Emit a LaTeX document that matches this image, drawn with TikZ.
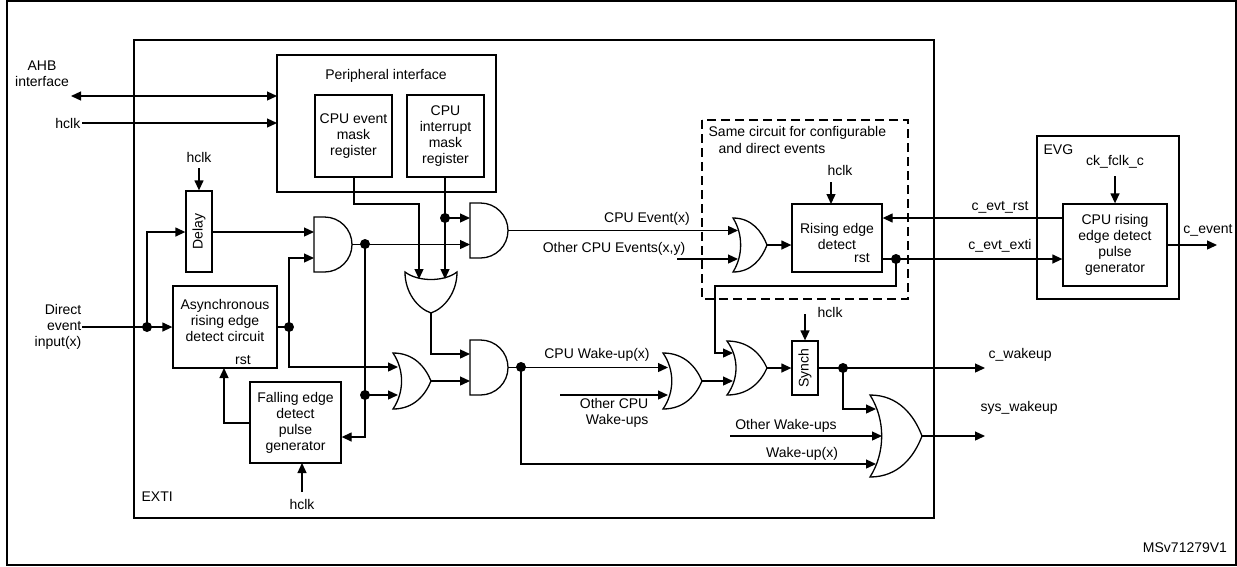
\documentclass[tikz,border=0pt]{standalone}
\usepackage{fontspec}
\setmainfont{Liberation Sans}
\usetikzlibrary{arrows.meta}
\newcommand\ANDG[4]{%
\draw[gate] (#1,#2) -- ({#3-(#4-#2)/2},#2) .. controls ({#3-(#4-#2)/2+0.552*(#4-#2)/2},#2) and (#3,{(#2+#4)/2-0.552*(#4-#2)/2}) .. (#3,{(#2+#4)/2}) .. controls (#3,{(#2+#4)/2+0.552*(#4-#2)/2}) and ({#3-(#4-#2)/2+0.552*(#4-#2)/2},#4) .. ({#3-(#4-#2)/2},#4) -- (#1,#4) -- cycle;}
\newcommand\ORG[4]{%
\draw[gate] (#1,#2) .. controls ({#1+0.55*(#3-#1)},#2) and ({#3-0.15*(#3-#1)},{(#2+#4)/2-0.25*(#4-#2)}) .. (#3,{(#2+#4)/2}) .. controls ({#3-0.15*(#3-#1)},{(#2+#4)/2+0.25*(#4-#2)}) and ({#1+0.55*(#3-#1)},#4) .. (#1,#4) .. controls ({#1+0.3*(#3-#1)},{(#2+#4)/2+0.2*(#4-#2)}) and ({#1+0.3*(#3-#1)},{(#2+#4)/2-0.2*(#4-#2)}) .. (#1,#2) -- cycle;}
\begin{document}
\begin{tikzpicture}[x=1pt,y=-1pt,line width=1.3pt,
  font=\fontsize{14}{16}\selectfont,
  gate/.style={line width=1.3pt},
  ar/.style={-{Triangle[length=10pt,width=9pt]}},
  box/.style={draw,line width=1.3pt,inner sep=0pt,align=center},
  lbl/.style={inner sep=0pt,align=center},
  dot/.style={fill,circle,inner sep=0pt,minimum size=10pt}]
\useasboundingbox (0,0) rectangle (1237,566);
\draw (7,1) rectangle (1236,565);
% boxes
\node[box,minimum width=800,minimum height=478] (exti) at (534,279) {};
\node[lbl,anchor=west] (extil) at (141,497) {EXTI};
\node[box,minimum width=219,minimum height=137] (periph) at (386.5,123.5) {};
\node[lbl] (periphl) at (386,76) {Peripheral interface};
\node[box,minimum width=77,minimum height=82] (evm) at (353.5,136) {CPU event\\mask\\register};
\node[box,minimum width=77,minimum height=82] (itm) at (445.5,136) {CPU\\interrupt\\mask\\register};
\node[box,minimum width=26,minimum height=81] (delay) at (199,231.5) {};
\node[lbl,rotate=90] (delayl) at (199,231.5) {Delay};
\node[box,minimum width=104,minimum height=82] (async) at (225,327) {};
\node[lbl] (asyncl) at (225,320) {Asynchronous\\rising edge\\detect circuit};
\node[lbl] (asyncr) at (243,360) {rst};
\node[box,minimum width=91,minimum height=81] (fall) at (295.5,422.5) {Falling edge\\detect\\pulse\\generator};
\draw[dash pattern=on 9pt off 5pt,line width=1.3pt] (702,120) rectangle (908,299);
\node[lbl,anchor=west] (same1) at (708,133) {Same circuit for configurable};
\node[lbl,anchor=west] (same2) at (718,148) {and direct events};
\node[box,minimum width=90,minimum height=68] (rise) at (837,238) {};
\node[lbl] (risel) at (837,236) {Rising edge\\detect};
\node[lbl] (riser) at (862,258) {rst};
\node[box,minimum width=26,minimum height=54] (synch) at (805,368) {};
\node[lbl,rotate=90] (synchl) at (805,368) {Synch};
\node[box,minimum width=142,minimum height=163] (evg) at (1108,217.5) {};
\node[lbl,anchor=west] (evgl) at (1043,150) {EVG};
\node[box,minimum width=104,minimum height=82] (crise) at (1115,245) {CPU rising\\edge detect\\pulse\\generator};
% gates
\ANDG{314}{217}{352}{272}
\ANDG{470}{203}{508}{258}
\ANDG{470}{340}{508}{395}
\ORG{393}{353}{431}{409}
\ORG{733}{218}{767}{272}
\ORG{663}{353}{702}{409}
\ORG{727}{341}{767}{395}
\ORG{870}{395}{922}{477}
\draw[gate] (405,272) .. controls (418,282) and (444,282) .. (457,272) .. controls (457,292) and (445,308) .. (431,313) .. controls (417,308) and (405,292) .. (405,272) -- cycle;
% coordinates
\coordinate (dA) at (147,327);
\coordinate (dB) at (289,327);
\coordinate (dC) at (365,244);
\coordinate (dD) at (365,395);
\coordinate (dE) at (445,218);
\coordinate (dF) at (521,367);
\coordinate (dG) at (896,259);
\coordinate (dH) at (843,368);
% left side
\node[lbl] (ahb) at (42,74) {AHB\\interface};
\coordinate (ahbE) at (71,96);
\draw[{Triangle[length=10pt,width=9pt]}-{Triangle[length=10pt,width=9pt]}] (ahbE) -- (277,96);
\node[lbl,anchor=east,inner sep=1pt] (hclk1) at (82,123) {hclk};
\draw[ar] (hclk1.east) -- (277,123);
\node[lbl] (hclk2) at (199,157) {hclk};
\draw[ar] (199,168) -- (delay.north);
\node[lbl,align=right,anchor=east] (dir) at (82,327) {Direct\\event\\input(x)};
\draw[ar] (82,327) -- (async.west);
\draw[ar] (dA) -- (147,232) -- (delay.west |- 0,232);
\draw[ar] (212,232) -- (314,232);
\draw (async.east |- dB) -- (dB);
\draw[ar] (dB) -- (289,258) -- (314,258);
\draw[ar] (dB) -- (289,367) -- (398,367);
\draw[ar] (352,244.5) -- (470,244.5);
\draw[ar] (dC) -- (365,437) -- (fall.east |- 0,437);
\draw[ar] (dD) -- (398,395);
\draw[ar] (250,423) -- (224,423) -- (224,368);
\node[lbl] (hclk3) at (302,504) {hclk};
\draw[ar] (302,492) -- (302,463);
\draw[ar] (431,381) -- (470,381);
\draw[ar] (354,177) -- (354,204) -- (419,204) -- (419,279);
\draw[ar] (445,177) -- (445,279);
\draw[ar] (dE) -- (470,218);
\draw[ar] (431,313) -- (431,354) -- (470,354);
% events
\draw[ar] (508,230.5) -- (738,230.5);
\node[lbl] (cpuev) at (647,219) {CPU Event(x)};
\node[lbl] (othev) at (614,249) {Other CPU Events(x,y)};
\draw[ar] (677,259) -- (738,259);
\draw[ar] (767,245) -- (rise.west |- 0,245);
\node[lbl] (hclk4) at (840,170) {hclk};
\draw[ar] (831,182) -- (831,204);
\draw[ar] (crise.west |- 0,218) -- (rise.east |- 0,218);
\node[lbl] (cer) at (1000,207) {c\_evt\_rst};
\draw[ar] (rise.east |- dG) -- (crise.west |- dG);
\node[lbl] (cee) at (1000,246) {c\_evt\_exti};
\draw[ar] (dG) -- (896,286) -- (715,286) -- (715,353) -- (733,353);
\node[lbl] (ckf) at (1115,162) {ck\_fclk\_c};
\draw[ar] (1115,176) -- (crise.north);
\draw[ar] (crise.east) -- (1217,245);
\node[lbl] (cevl) at (1208,230) {c\_event};
% wakeups
\draw[ar] (508,367.5) -- (668,367.5);
\node[lbl] (cwu) at (597,355) {CPU Wake-up(x)};
\draw[ar] (560,395) -- (668,395);
\node[lbl,align=right,anchor=north east] (ocw) at (649,398) {Other CPU\\Wake-ups};
\draw[ar] (702,381) -- (733,381);
\draw[ar] (767,368) -- (synch.west);
\node[lbl,anchor=west] (hclk5) at (817,312) {hclk};
\draw[ar] (805,314) -- (synch.north);
\draw[ar] (synch.east) -- (985,368);
\node[lbl,anchor=west] (cwk) at (988,355) {c\_wakeup};
\draw[ar] (dH) -- (843,409) -- (876,409);
\draw[ar] (730,436) -- (882,436);
\node[lbl] (owu) at (786,426) {Other Wake-ups};
\draw[ar] (dF) -- (521,464) -- (876,464);
\node[lbl] (wux) at (802,454) {Wake-up(x)};
\draw[ar] (922,436) -- (985,436);
\node[lbl,anchor=west] (syw) at (980,408) {sys\_wakeup};
\node[lbl] (ms) at (1185,548) {MSv71279V1};
% dots
\foreach \p in {dA,dB,dC,dD,dE,dF,dG,dH} \node[dot] at (\p) {};
\end{tikzpicture}
\end{document}
